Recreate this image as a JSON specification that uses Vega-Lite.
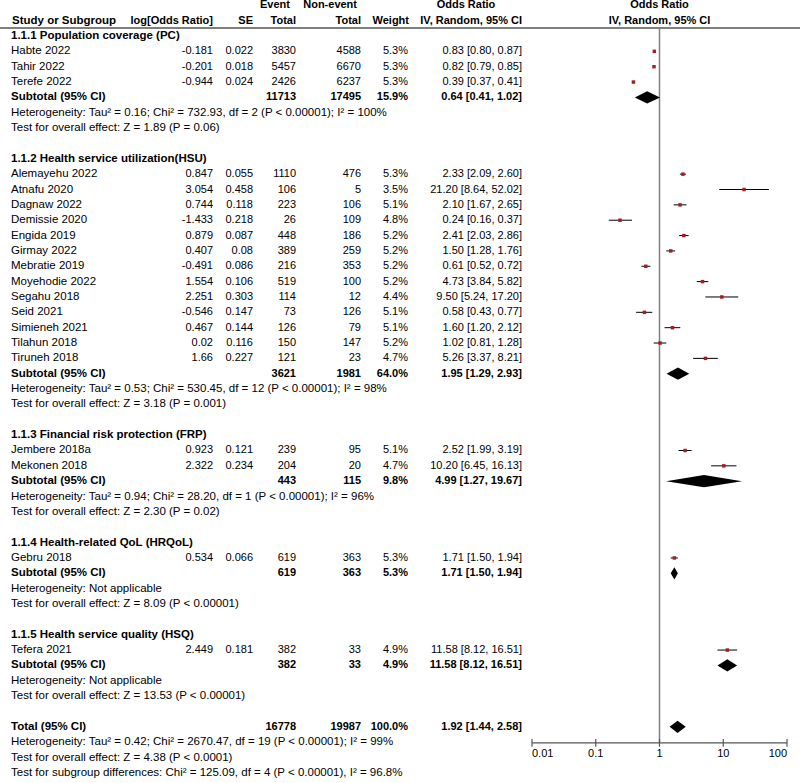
{
  "$schema": "https://vega.github.io/schema/vega-lite/v6.json",
  "width": 800,
  "height": 783,
  "autosize": "none",
  "padding": 0,
  "background": "white",
  "config": {
    "view": {"stroke": null},
    "text": {"font": "Liberation Sans", "fontSize": 11, "color": "#000000", "baseline": "middle"}
  },
  "datasets": {
    "rows": [
      {"r": 0, "kind": "group", "label": "1.1.1 Population coverage (PC)"},
      {"r": 1, "kind": "study", "label": "Habte 2022", "logor": "-0.181", "se": "0.022", "ev": "3830", "nev": "4588", "wt": "5.3%", "orci": "0.83 [0.80, 0.87]", "or": 0.83, "lo": 0.80, "hi": 0.87},
      {"r": 2, "kind": "study", "label": "Tahir 2022", "logor": "-0.201", "se": "0.018", "ev": "5457", "nev": "6670", "wt": "5.3%", "orci": "0.82 [0.79, 0.85]", "or": 0.82, "lo": 0.79, "hi": 0.85},
      {"r": 3, "kind": "study", "label": "Terefe 2022", "logor": "-0.944", "se": "0.024", "ev": "2426", "nev": "6237", "wt": "5.3%", "orci": "0.39 [0.37, 0.41]", "or": 0.39, "lo": 0.37, "hi": 0.41},
      {"r": 4, "kind": "subtotal", "label": "Subtotal (95% CI)", "ev": "11713", "nev": "17495", "wt": "15.9%", "orci": "0.64 [0.41, 1.02]", "or": 0.64, "lo": 0.41, "hi": 1.02},
      {"r": 5, "kind": "note", "label": "Heterogeneity: Tau² = 0.16; Chi² = 732.93, df = 2 (P < 0.00001); I² = 100%"},
      {"r": 6, "kind": "note", "label": "Test for overall effect: Z = 1.89 (P = 0.06)"},
      {"r": 8, "kind": "group", "label": "1.1.2 Health service utilization(HSU)"},
      {"r": 9, "kind": "study", "label": "Alemayehu 2022", "logor": "0.847", "se": "0.055", "ev": "1110", "nev": "476", "wt": "5.3%", "orci": "2.33 [2.09, 2.60]", "or": 2.33, "lo": 2.09, "hi": 2.60},
      {"r": 10, "kind": "study", "label": "Atnafu 2020", "logor": "3.054", "se": "0.458", "ev": "106", "nev": "5", "wt": "3.5%", "orci": "21.20 [8.64, 52.02]", "or": 21.20, "lo": 8.64, "hi": 52.02},
      {"r": 11, "kind": "study", "label": "Dagnaw 2022", "logor": "0.744", "se": "0.118", "ev": "223", "nev": "106", "wt": "5.1%", "orci": "2.10 [1.67, 2.65]", "or": 2.10, "lo": 1.67, "hi": 2.65},
      {"r": 12, "kind": "study", "label": "Demissie 2020", "logor": "-1.433", "se": "0.218", "ev": "26", "nev": "109", "wt": "4.8%", "orci": "0.24 [0.16, 0.37]", "or": 0.24, "lo": 0.16, "hi": 0.37},
      {"r": 13, "kind": "study", "label": "Engida 2019", "logor": "0.879", "se": "0.087", "ev": "448", "nev": "186", "wt": "5.2%", "orci": "2.41 [2.03, 2.86]", "or": 2.41, "lo": 2.03, "hi": 2.86},
      {"r": 14, "kind": "study", "label": "Girmay 2022", "logor": "0.407", "se": "0.08", "ev": "389", "nev": "259", "wt": "5.2%", "orci": "1.50 [1.28, 1.76]", "or": 1.50, "lo": 1.28, "hi": 1.76},
      {"r": 15, "kind": "study", "label": "Mebratie 2019", "logor": "-0.491", "se": "0.086", "ev": "216", "nev": "353", "wt": "5.2%", "orci": "0.61 [0.52, 0.72]", "or": 0.61, "lo": 0.52, "hi": 0.72},
      {"r": 16, "kind": "study", "label": "Moyehodie 2022", "logor": "1.554", "se": "0.106", "ev": "519", "nev": "100", "wt": "5.2%", "orci": "4.73 [3.84, 5.82]", "or": 4.73, "lo": 3.84, "hi": 5.82},
      {"r": 17, "kind": "study", "label": "Segahu 2018", "logor": "2.251", "se": "0.303", "ev": "114", "nev": "12", "wt": "4.4%", "orci": "9.50 [5.24, 17.20]", "or": 9.50, "lo": 5.24, "hi": 17.20},
      {"r": 18, "kind": "study", "label": "Seid 2021", "logor": "-0.546", "se": "0.147", "ev": "73", "nev": "126", "wt": "5.1%", "orci": "0.58 [0.43, 0.77]", "or": 0.58, "lo": 0.43, "hi": 0.77},
      {"r": 19, "kind": "study", "label": "Simieneh 2021", "logor": "0.467", "se": "0.144", "ev": "126", "nev": "79", "wt": "5.1%", "orci": "1.60 [1.20, 2.12]", "or": 1.60, "lo": 1.20, "hi": 2.12},
      {"r": 20, "kind": "study", "label": "Tilahun 2018", "logor": "0.02", "se": "0.116", "ev": "150", "nev": "147", "wt": "5.2%", "orci": "1.02 [0.81, 1.28]", "or": 1.02, "lo": 0.81, "hi": 1.28},
      {"r": 21, "kind": "study", "label": "Tiruneh 2018", "logor": "1.66", "se": "0.227", "ev": "121", "nev": "23", "wt": "4.7%", "orci": "5.26 [3.37, 8.21]", "or": 5.26, "lo": 3.37, "hi": 8.21},
      {"r": 22, "kind": "subtotal", "label": "Subtotal (95% CI)", "ev": "3621", "nev": "1981", "wt": "64.0%", "orci": "1.95 [1.29, 2.93]", "or": 1.95, "lo": 1.29, "hi": 2.93},
      {"r": 23, "kind": "note", "label": "Heterogeneity: Tau² = 0.53; Chi² = 530.45, df = 12 (P < 0.00001); I² = 98%"},
      {"r": 24, "kind": "note", "label": "Test for overall effect: Z = 3.18 (P = 0.001)"},
      {"r": 26, "kind": "group", "label": "1.1.3 Financial risk protection (FRP)"},
      {"r": 27, "kind": "study", "label": "Jembere 2018a", "logor": "0.923", "se": "0.121", "ev": "239", "nev": "95", "wt": "5.1%", "orci": "2.52 [1.99, 3.19]", "or": 2.52, "lo": 1.99, "hi": 3.19},
      {"r": 28, "kind": "study", "label": "Mekonen 2018", "logor": "2.322", "se": "0.234", "ev": "204", "nev": "20", "wt": "4.7%", "orci": "10.20 [6.45, 16.13]", "or": 10.20, "lo": 6.45, "hi": 16.13},
      {"r": 29, "kind": "subtotal", "label": "Subtotal (95% CI)", "ev": "443", "nev": "115", "wt": "9.8%", "orci": "4.99 [1.27, 19.67]", "or": 4.99, "lo": 1.27, "hi": 19.67},
      {"r": 30, "kind": "note", "label": "Heterogeneity: Tau² = 0.94; Chi² = 28.20, df = 1 (P < 0.00001); I² = 96%"},
      {"r": 31, "kind": "note", "label": "Test for overall effect: Z = 2.30 (P = 0.02)"},
      {"r": 33, "kind": "group", "label": "1.1.4 Health-related QoL (HRQoL)"},
      {"r": 34, "kind": "study", "label": "Gebru 2018", "logor": "0.534", "se": "0.066", "ev": "619", "nev": "363", "wt": "5.3%", "orci": "1.71 [1.50, 1.94]", "or": 1.71, "lo": 1.50, "hi": 1.94},
      {"r": 35, "kind": "subtotal", "label": "Subtotal (95% CI)", "ev": "619", "nev": "363", "wt": "5.3%", "orci": "1.71 [1.50, 1.94]", "or": 1.71, "lo": 1.50, "hi": 1.94},
      {"r": 36, "kind": "note", "label": "Heterogeneity: Not applicable"},
      {"r": 37, "kind": "note", "label": "Test for overall effect: Z = 8.09 (P < 0.00001)"},
      {"r": 39, "kind": "group", "label": "1.1.5 Health service quality (HSQ)"},
      {"r": 40, "kind": "study", "label": "Tefera 2021", "logor": "2.449", "se": "0.181", "ev": "382", "nev": "33", "wt": "4.9%", "orci": "11.58 [8.12, 16.51]", "or": 11.58, "lo": 8.12, "hi": 16.51},
      {"r": 41, "kind": "subtotal", "label": "Subtotal (95% CI)", "ev": "382", "nev": "33", "wt": "4.9%", "orci": "11.58 [8.12, 16.51]", "or": 11.58, "lo": 8.12, "hi": 16.51},
      {"r": 42, "kind": "note", "label": "Heterogeneity: Not applicable"},
      {"r": 43, "kind": "note", "label": "Test for overall effect: Z = 13.53 (P < 0.00001)"},
      {"r": 45, "kind": "total", "label": "Total (95% CI)", "ev": "16778", "nev": "19987", "wt": "100.0%", "orci": "1.92 [1.44, 2.58]", "or": 1.92, "lo": 1.44, "hi": 2.58},
      {"r": 46, "kind": "note", "label": "Heterogeneity: Tau² = 0.42; Chi² = 2670.47, df = 19 (P < 0.00001); I² = 99%"},
      {"r": 47, "kind": "note", "label": "Test for overall effect: Z = 4.38 (P < 0.0001)"},
      {"r": 48, "kind": "note", "label": "Test for subgroup differences: Chi² = 125.09, df = 4 (P < 0.00001), I² = 96.8%"}
    ],
    "ticks": [
      {"t": 0.01, "lab": "0.01"},
      {"t": 0.1, "lab": "0.1"},
      {"t": 1, "lab": "1"},
      {"t": 10, "lab": "10"},
      {"t": 100, "lab": "100"}
    ]
  },
  "encoding": {
    "y": {"field": "r", "type": "quantitative", "scale": {"domain": [-2.345, 48.66], "reverse": true, "zero": false, "nice": false}, "axis": null}
  },
  "layer": [
    {
      "data": {"values": [{"r": -2, "txt": "Event"}]},
      "mark": {"type": "text", "align": "right", "fontWeight": "bold"},
      "encoding": {"x": {"value": 290}, "text": {"field": "txt"}}
    },
    {
      "data": {"values": [{"r": -2, "txt": "Non-event"}]},
      "mark": {"type": "text", "align": "right", "fontWeight": "bold"},
      "encoding": {"x": {"value": 357}, "text": {"field": "txt"}}
    },
    {
      "data": {"values": [{"r": -2, "txt": "Odds Ratio"}]},
      "mark": {"type": "text", "align": "center", "fontWeight": "bold"},
      "encoding": {"x": {"value": 466}, "text": {"field": "txt"}}
    },
    {
      "data": {"values": [{"r": -1, "txt": "Study or Subgroup"}]},
      "mark": {"type": "text", "align": "left", "fontWeight": "bold", "fontSize": 11.5},
      "encoding": {"x": {"value": 12}, "text": {"field": "txt"}}
    },
    {
      "data": {"values": [{"r": -1, "txt": "log[Odds Ratio]"}]},
      "mark": {"type": "text", "align": "right", "fontWeight": "bold"},
      "encoding": {"x": {"value": 213}, "text": {"field": "txt"}}
    },
    {
      "data": {"values": [{"r": -1, "txt": "SE"}]},
      "mark": {"type": "text", "align": "right", "fontWeight": "bold"},
      "encoding": {"x": {"value": 253}, "text": {"field": "txt"}}
    },
    {
      "data": {"values": [{"r": -1, "txt": "Total"}]},
      "mark": {"type": "text", "align": "right", "fontWeight": "bold"},
      "encoding": {"x": {"value": 296}, "text": {"field": "txt"}}
    },
    {
      "data": {"values": [{"r": -1, "txt": "Total"}]},
      "mark": {"type": "text", "align": "right", "fontWeight": "bold"},
      "encoding": {"x": {"value": 361}, "text": {"field": "txt"}}
    },
    {
      "data": {"values": [{"r": -1, "txt": "Weight"}]},
      "mark": {"type": "text", "align": "right", "fontWeight": "bold"},
      "encoding": {"x": {"value": 409}, "text": {"field": "txt"}}
    },
    {
      "data": {"values": [{"r": -1, "txt": "IV, Random, 95% CI"}]},
      "mark": {"type": "text", "align": "right", "fontWeight": "bold"},
      "encoding": {"x": {"value": 522}, "text": {"field": "txt"}}
    },
    {
      "data": {"values": [{"r": -2, "txt": "Odds Ratio"}, {"r": -1, "txt": "IV, Random, 95% CI"}]},
      "mark": {"type": "text", "align": "center", "fontWeight": "bold"},
      "encoding": {
        "x": {"datum": 1, "type": "quantitative", "scale": {"type": "log", "domain": [0.01, 100], "range": [532, 787]}},
        "text": {"field": "txt"}
      }
    },
    {
      "data": {"values": [{"r": -0.52}]},
      "mark": {"type": "rule", "color": "#555555", "strokeWidth": 1.5},
      "encoding": {"x": {"value": 0}, "x2": {"value": 800}}
    },
    {
      "data": {"values": [{"r": -0.52, "r2": 46.05}]},
      "mark": {"type": "rule", "color": "#808080", "strokeWidth": 1.5},
      "encoding": {"x": {"datum": 1, "type": "quantitative"}, "y2": {"field": "r2"}}
    },
    {
      "data": {"values": [{"r": 46.05}]},
      "mark": {"type": "rule", "color": "#555555", "strokeWidth": 1.2},
      "encoding": {"x": {"datum": 0.01, "type": "quantitative"}, "x2": {"datum": 100}}
    },
    {
      "data": {"name": "ticks"},
      "transform": [{"calculate": "45.8", "as": "r"}, {"calculate": "46.3", "as": "r2"}],
      "mark": {"type": "rule", "color": "#555555", "strokeWidth": 1.2},
      "encoding": {"x": {"field": "t", "type": "quantitative"}, "y2": {"field": "r2"}}
    },
    {
      "data": {"name": "ticks"},
      "transform": [{"calculate": "46.75", "as": "r"}],
      "mark": {"type": "text", "align": {"expr": "datum.t == 0.01 ? 'left' : (datum.t == 100 ? 'right' : 'center')"}},
      "encoding": {"x": {"field": "t", "type": "quantitative"}, "text": {"field": "lab"}}
    },
    {
      "data": {"name": "rows"},
      "transform": [{"filter": "datum.kind == 'study'"}],
      "mark": {"type": "rule", "color": "#000000", "strokeWidth": 1},
      "encoding": {"x": {"field": "lo", "type": "quantitative"}, "x2": {"field": "hi"}}
    },
    {
      "data": {"name": "rows"},
      "transform": [{"filter": "datum.kind == 'study'"}],
      "mark": {"type": "point", "shape": "square", "filled": true, "color": "#a31f1f", "size": 12, "opacity": 1},
      "encoding": {"x": {"field": "or", "type": "quantitative"}}
    },
    {
      "data": {"name": "rows"},
      "transform": [
        {"filter": "datum.kind == 'subtotal' || datum.kind == 'total'"},
        {"fold": ["lo", "or", "hi"], "as": ["pt", "xv"]},
        {"calculate": "datum.r - (datum.pt == 'or' ? 0.4 : 0)", "as": "ya"},
        {"calculate": "datum.r + (datum.pt == 'or' ? 0.4 : 0)", "as": "yb"}
      ],
      "mark": {"type": "area", "color": "#000000", "orient": "vertical", "opacity": 1},
      "encoding": {
        "x": {"field": "xv", "type": "quantitative"},
        "y": {"field": "ya", "type": "quantitative", "stack": null},
        "y2": {"field": "yb"},
        "detail": {"field": "r", "type": "nominal"}
      }
    },
    {
      "data": {"name": "rows"},
      "mark": {"type": "text", "align": "left", "fontSize": 11.5, "fontWeight": {"expr": "datum.kind == 'study' || datum.kind == 'note' ? 'normal' : 'bold'"}},
      "encoding": {"x": {"value": 11}, "text": {"field": "label"}}
    },
    {
      "data": {"name": "rows"},
      "transform": [{"filter": "isValid(datum.logor)"}],
      "mark": {"type": "text", "align": "right"},
      "encoding": {"x": {"value": 213}, "text": {"field": "logor"}}
    },
    {
      "data": {"name": "rows"},
      "transform": [{"filter": "isValid(datum.se)"}],
      "mark": {"type": "text", "align": "right"},
      "encoding": {"x": {"value": 253}, "text": {"field": "se"}}
    },
    {
      "data": {"name": "rows"},
      "transform": [{"filter": "isValid(datum.ev)"}],
      "mark": {"type": "text", "align": "right", "fontWeight": {"expr": "datum.kind == 'study' ? 'normal' : 'bold'"}},
      "encoding": {"x": {"value": 296}, "text": {"field": "ev"}}
    },
    {
      "data": {"name": "rows"},
      "transform": [{"filter": "isValid(datum.nev)"}],
      "mark": {"type": "text", "align": "right", "fontWeight": {"expr": "datum.kind == 'study' ? 'normal' : 'bold'"}},
      "encoding": {"x": {"value": 361}, "text": {"field": "nev"}}
    },
    {
      "data": {"name": "rows"},
      "transform": [{"filter": "isValid(datum.wt)"}],
      "mark": {"type": "text", "align": "right", "fontWeight": {"expr": "datum.kind == 'study' ? 'normal' : 'bold'"}},
      "encoding": {"x": {"value": 408}, "text": {"field": "wt"}}
    },
    {
      "data": {"name": "rows"},
      "transform": [{"filter": "isValid(datum.orci)"}],
      "mark": {"type": "text", "align": "right", "fontWeight": {"expr": "datum.kind == 'study' ? 'normal' : 'bold'"}},
      "encoding": {"x": {"value": 522}, "text": {"field": "orci"}}
    }
  ]
}
